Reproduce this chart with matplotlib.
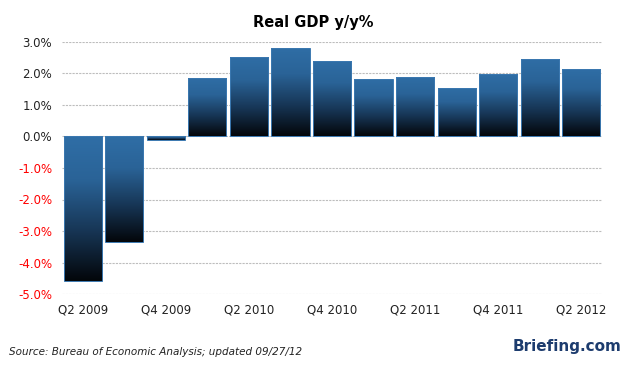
import numpy as np
import matplotlib
matplotlib.use('Agg')
from matplotlib import pyplot as plt
from matplotlib.colors import LinearSegmentedColormap

quarters = ['Q2 2009', 'Q3 2009', 'Q4 2009', 'Q1 2010', 'Q2 2010', 'Q3 2010', 'Q4 2010',
            'Q1 2011', 'Q2 2011', 'Q3 2011', 'Q4 2011', 'Q1 2012', 'Q2 2012']
gdp_yy = [-4.6, -3.35, -0.1, 1.86, 2.52, 2.81, 2.40, 1.83, 1.89, 1.54, 1.99, 2.46, 2.14]
yticks = [3, 2, 1, 0, -1, -2, -3, -4, -5]

fig = plt.figure(figsize=(6.26, 3.67), dpi=100)
ax = fig.add_axes([62 / 626, 73 / 367, 540 / 626, 252 / 367])

x = np.arange(len(quarters))
bars = ax.bar(x, gdp_yy, width=0.92, color='none', edgecolor='#3b78b0', linewidth=0.7, zorder=3)

cmap = LinearSegmentedColormap.from_list(
    'bluefade', [(0, '#2f6ea6'), (0.3, '#2a6397'), (0.65, '#173656'), (1, '#03060a')])
grad = np.linspace(0, 1, 256).reshape(-1, 1)
for b, v in zip(bars, gdp_yy):
    top = max(v, 0)
    bot = min(v, 0)
    im = ax.imshow(grad, cmap=cmap, aspect='auto', origin='upper',
                   extent=[b.get_x(), b.get_x() + b.get_width(), bot, top], zorder=2)
    im.set_clip_path(b)

ax.set_xlim(-0.5, len(quarters) - 0.5)
ax.set_ylim(-5, 3)
ax.set_yticks(yticks)
ax.set_yticklabels(['%.1f%%' % t for t in yticks], fontsize=8.5)
for lab, t in zip(ax.get_yticklabels(), yticks):
    lab.set_color('red' if t < 0 else '#222222')
ax.set_xticks(x[::2])
ax.set_xticklabels(quarters[::2], fontsize=8.5, color='#222222')
ax.tick_params(length=0, pad=7)
ax.yaxis.grid(True, linestyle=(0, (2, 1)), color='#bdbdbd', linewidth=0.8, zorder=0)
for s in ax.spines.values():
    s.set_visible(False)

fig.text(313 / 626, 1 - 22 / 367, 'Real GDP y/y%', ha='center', va='center',
         fontsize=10.5, fontweight='bold')
fig.text(9 / 626, 1 - 352 / 367, 'Source: Bureau of Economic Analysis; updated 09/27/12',
         ha='left', va='center', fontsize=7.5, style='italic', color='#222222')
fig.text(622 / 626, 1 - 347 / 367, 'Briefing.com', ha='right', va='center',
         fontsize=11, fontweight='bold', color='#1d3c6e')

fig.savefig('out.png', dpi=100)
